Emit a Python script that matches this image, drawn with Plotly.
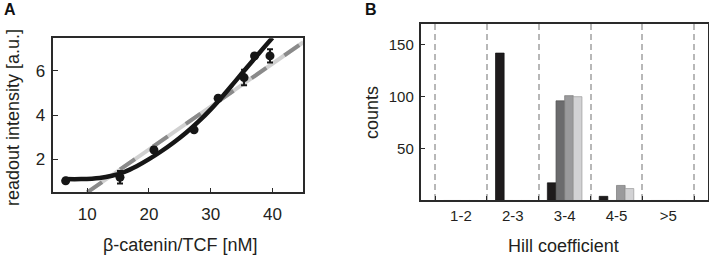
import plotly.graph_objects as go

# ---------- Panel A data ----------
conc = [6.5, 15.3, 20.8, 27.3, 31.2, 35.4, 37.1, 39.6]
intensity = [1.02, 1.18, 2.42, 3.33, 4.76, 5.70, 6.68, 6.68]
intensity_err = [0.10, 0.28, 0.12, 0.10, 0.10, 0.35, 0.10, 0.30]

fit_x = [6.5, 9, 12, 14, 16, 18, 20, 22, 24, 26, 28, 30, 32, 34, 36, 38, 40]
fit_y = [1.10, 1.10, 1.15, 1.25, 1.42, 1.68, 2.00, 2.36, 2.76, 3.20, 3.70, 4.26, 4.88, 5.54, 6.20, 6.86, 7.50]

lin_x = [10, 45]
lin_y = [0.50, 7.30]

xticks_a = [10, 20, 30, 40]
yticks_a = [2, 4, 6]

# ---------- Panel B data ----------
hill_pos = [1.5, 2.5, 3.5, 4.5, 5.5]
hill_labels = ["1-2", "2-3", "3-4", "4-5", ">5"]
hill_bounds = [1, 2, 3, 4, 5, 6]
counts_s1 = [0, 142, 17, 4, 0]
counts_s2 = [0, 0, 96, 0, 0]
counts_s3 = [0, 0, 101, 14.5, 0]
counts_s4 = [0, 0, 100, 11.5, 0]
yticks_b = [50, 100, 150]

FONT = "Liberation Sans, Arial, sans-serif"
AX = "#2a2a2a"

fig = go.Figure()

# Panel A traces
fig.add_trace(go.Scatter(x=lin_x, y=lin_y, mode="lines",
                         line=dict(color="#d0d0d0", width=4),
                         xaxis="x", yaxis="y", showlegend=False))
fig.add_trace(go.Scatter(x=lin_x, y=lin_y, mode="lines",
                         line=dict(color="#8a8a8a", width=4, dash="18px,22px"),
                         xaxis="x", yaxis="y", showlegend=False))
fig.add_trace(go.Scatter(x=fit_x, y=fit_y, mode="lines",
                         line=dict(color="#161616", width=4.5, shape="spline", smoothing=1),
                         xaxis="x", yaxis="y", showlegend=False))
fig.add_trace(go.Scatter(x=conc, y=intensity, mode="markers",
                         marker=dict(color="#161616", size=9),
                         error_y=dict(type="data", array=intensity_err, visible=True,
                                      color="#161616", thickness=2, width=3),
                         xaxis="x", yaxis="y", showlegend=False))

# Panel B traces
bar_specs = [
    (counts_s1, "#1e1b1c", "#111111"),
    (counts_s2, "#6b6b6d", "#555555"),
    (counts_s3, "#9a9a9c", "#777777"),
    (counts_s4, "#d2d2d4", "#999999"),
]
for vals, col, lc in bar_specs:
    fig.add_trace(go.Bar(x=hill_pos, y=vals, marker=dict(color=col, line=dict(color=lc, width=0.7)),
                         xaxis="x2", yaxis="y2", showlegend=False))


def note(text, px, py, size=18, angle=0, color="#231f20"):
    return dict(text=text, x=px / 709, y=1 - py / 258, xref="paper", yref="paper",
                xanchor="center", yanchor="middle", textangle=angle, showarrow=False,
                font=dict(size=size, family=FONT, color=color))


fig.update_layout(
    width=709, height=258, autosize=False,
    margin=dict(l=0, r=0, t=0, b=0),
    paper_bgcolor="white", plot_bgcolor="white",
    font=dict(family=FONT, color="#231f20"),
    barmode="group", bargap=0.333, bargroupgap=0,
    xaxis=dict(domain=[0.0752, 0.4278], range=[4.5, 45], tickmode="array", tickvals=xticks_a,
               ticks="inside", ticklen=5, tickwidth=1.3, tickcolor=AX,
               showline=True, mirror=True, linecolor=AX, linewidth=1.5,
               showgrid=False, zeroline=False, tickfont=dict(size=17, family=FONT),
               ticklabelstandoff=6),
    yaxis=dict(domain=[0.2547, 0.8516], range=[0.5, 7.48], tickmode="array", tickvals=yticks_a,
               ticks="inside", ticklen=5, tickwidth=1.3, tickcolor=AX,
               showline=True, mirror=True, linecolor=AX, linewidth=1.5,
               showgrid=False, zeroline=False, tickfont=dict(size=17, family=FONT),
               ticklabelstandoff=3),
    xaxis2=dict(domain=[0.5931, 0.9986], range=[0.72, 6.265], tickmode="array",
                tickvals=hill_pos, ticktext=hill_labels, ticks="",
                minor=dict(tickmode="array", tickvals=hill_bounds, ticks="inside", ticklen=5,
                           tickwidth=1.3, tickcolor=AX, showgrid=True, gridcolor="#b8b8b8",
                           griddash="6px,4px", gridwidth=1.5),
                showline=True, mirror=True, linecolor=AX, linewidth=1.5,
                showgrid=False, zeroline=False, tickfont=dict(size=15, family=FONT),
                ticklabelstandoff=1, anchor="y2"),
    yaxis2=dict(domain=[0.2229, 0.907], range=[0, 170], tickmode="array", tickvals=yticks_b,
                ticks="inside", ticklen=5, tickwidth=1.3, tickcolor=AX,
                showline=True, mirror=True, linecolor=AX, linewidth=1.5,
                showgrid=False, zeroline=False, tickfont=dict(size=15, family=FONT),
                ticklabelstandoff=2, anchor="x2"),
    annotations=[
        note("<b>A</b>", 10, 10, size=16, color="#111"),
        note("<b>B</b>", 371, 10, size=16, color="#111"),
        note("readout intensity [a.u.]", 13, 118, angle=-90),
        note("β-catenin/TCF [nM]", 180, 245),
        note("counts", 372, 113, angle=-90),
        note("Hill coefficient", 563, 246),
    ],
)

fig.write_html("out.html", config={"displayModeBar": False},
               post_script="document.body.style.margin='0px';document.body.style.padding='0px';")
